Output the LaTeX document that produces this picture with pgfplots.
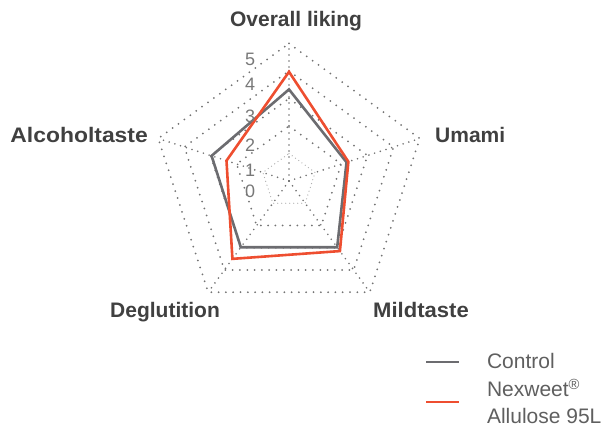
\documentclass[border=0pt]{standalone}
\usepackage{fontspec}
\setmainfont{Liberation Sans}
\usepackage{graphicx}
\usepackage{pgfplots}
\pgfplotsset{compat=1.18}
\definecolor{ctrl}{RGB}{108,108,112}
\definecolor{nex}{RGB}{238,78,48}
\definecolor{gridc}{RGB}{115,115,115}
\definecolor{gridl}{RGB}{175,175,175}
\definecolor{lab}{RGB}{64,64,64}
\definecolor{tickc}{RGB}{120,120,120}
\definecolor{leg}{RGB}{95,95,95}
\tikzset{
  gridline/.style={gridc, line width=2pt, line cap=round, dash pattern=on 0pt off 7.3pt},
  gridinner/.style={gridl, line width=1.3pt, line cap=round, dash pattern=on 0pt off 4pt},
  spoke/.style={gridc, line width=1.8pt, line cap=round, dash pattern=on 0pt off 6pt},
  lab/.style={font=\bfseries\fontsize{21}{25}\selectfont, text=lab, inner sep=0pt},
  tk/.style={font=\fontsize{18}{20}\selectfont, text=tickc, inner sep=0pt, anchor=center},
}
\begin{document}
\begin{tikzpicture}
\begin{axis}[
  x=27.5pt, y=27.5pt,
  xmin=-10.509, xmax=11.491, ymin=-9.055, ymax=6.582,
  hide axis, clip=false,
  legend cell align=left,
  legend style={at={(0.7025,0.178)}, anchor=north west, draw=none, fill=none,
    inner sep=0pt, outer sep=0pt,
    font=\fontsize{21}{26.2}\selectfont\color{leg},
    cells={align=left}, nodes={inner sep=0pt}, row sep=9pt,
    /tikz/every odd column/.append style={column sep=27pt}},
  legend image code/.code={\draw[#1,line width=2pt] (0pt,0pt) -- (33pt,0pt);},
]
\path (rel axis cs:0,0) rectangle (rel axis cs:1,1);
% grid pentagons
\addplot[gridinner, data cs=polar, forget plot] coordinates {(90,1) (18,1) (-54,1) (-126,1) (162,1) (90,1)};
\addplot[gridline, data cs=polar, forget plot] coordinates {(90,2) (18,2) (-54,2) (-126,2) (162,2) (90,2)};
\addplot[gridline, data cs=polar, forget plot] coordinates {(90,3) (18,3) (-54,3) (-126,3) (162,3) (90,3)};
\addplot[gridline, data cs=polar, forget plot] coordinates {(90,4) (18,4) (-54,4) (-126,4) (162,4) (90,4)};
\addplot[gridline, data cs=polar, forget plot] coordinates {(90,5) (18,5) (-54,5) (-126,5) (162,5) (90,5)};
% spokes
\addplot[spoke, data cs=polar, forget plot] coordinates {(90,0) (90,5)};
\addplot[spoke, data cs=polar, forget plot] coordinates {(18,0) (18,5)};
\addplot[spoke, data cs=polar, forget plot] coordinates {(-54,0) (-54,5)};
\addplot[spoke, data cs=polar, forget plot] coordinates {(-126,0) (-126,5)};
\addplot[spoke, data cs=polar, forget plot] coordinates {(162,0) (162,5)};
% data
\addplot[ctrl, line width=2.6pt, line join=miter, data cs=polar] coordinates {(90,3.33) (18,2.20) (-54,2.98) (-126,2.98) (162,2.96)} -- cycle;
\addlegendentry{Control}
\addplot[nex, line width=2.6pt, line join=miter, data cs=polar] coordinates {(90,3.97) (18,2.27) (-54,3.15) (-126,3.50) (162,2.39)} -- cycle;
\addlegendentry{Nexweet\textsuperscript{\textregistered}\\Allulose 95L}
% tick labels
\node[tk] at (axis cs:-1.418,4.418) {5};
\node[tk] at (axis cs:-1.418,3.509) {4};
\node[tk] at (axis cs:-1.418,2.364) {3};
\node[tk] at (axis cs:-1.418,1.291) {2};
\node[tk] at (axis cs:-1.418,0.400) {1};
\node[tk] at (axis cs:-1.418,-0.389) {0};
% category labels
\node[lab, anchor=base] at (axis cs:0.255,5.6) {Overall liking};
\node[lab, anchor=base east] at (axis cs:-5.127,1.418) {\scalebox{1.09}[1]{Alcoholtaste}};
\node[lab, anchor=base west] at (axis cs:5.309,1.382) {Umami};
\node[lab, anchor=base west] at (axis cs:-6.509,-4.982) {Deglutition};
\node[lab, anchor=base west] at (axis cs:3.055,-4.982) {\scalebox{1.05}[1]{Mildtaste}};
\end{axis}
\end{tikzpicture}
\end{document}
